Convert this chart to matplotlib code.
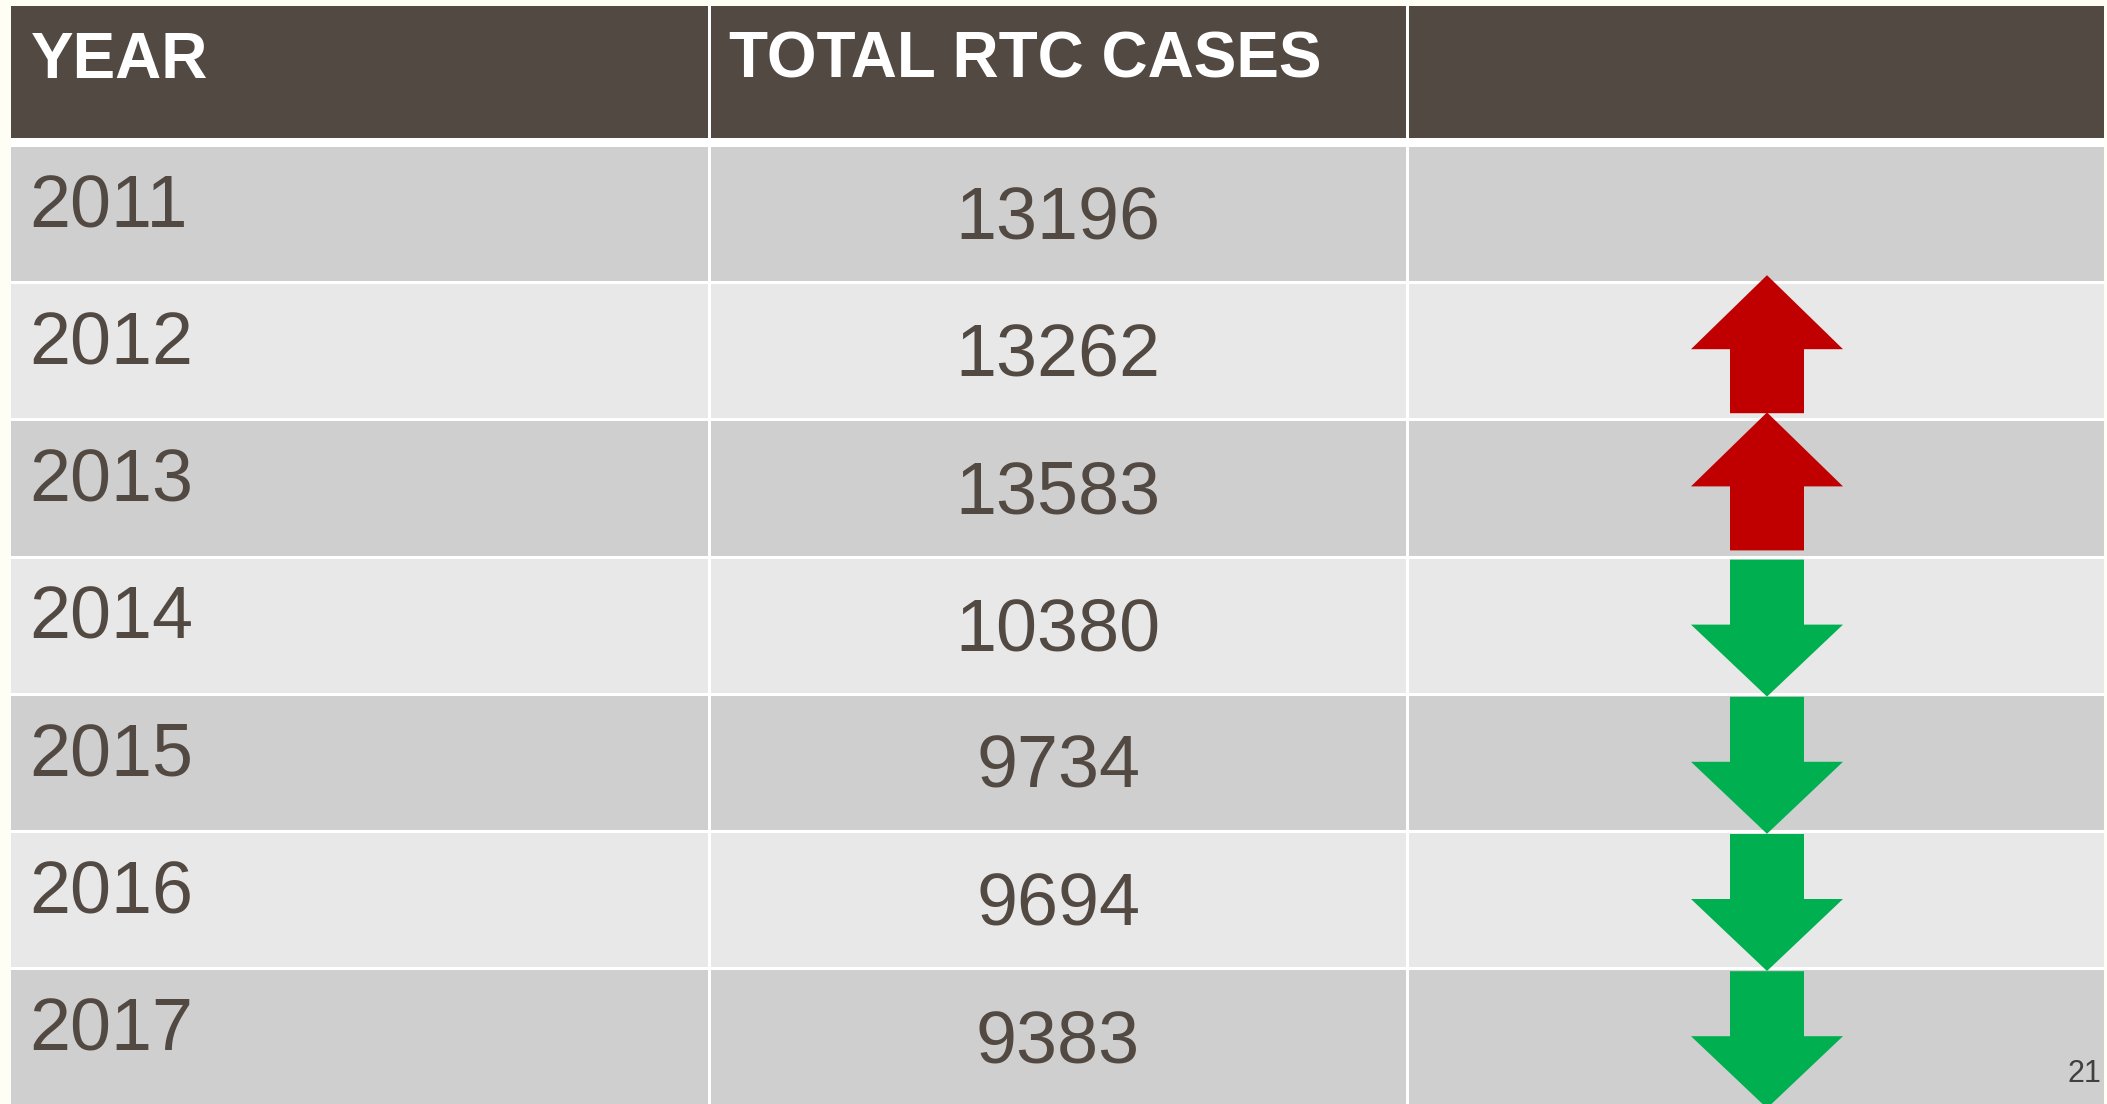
import matplotlib.pyplot as plt
from matplotlib.patches import Rectangle, Polygon
import numpy as np

# table data
years = ['2011', '2012', '2013', '2014', '2015', '2016', '2017']
cases = [13196, 13262, 13583, 10380, 9734, 9694, 9383]
headers = ['YEAR', 'TOTAL RTC CASES', '']
page_num = '21'

plt.rcParams['font.family'] = ['Liberation Sans', 'DejaVu Sans']

W, H = 2107, 1104
fig = plt.figure(figsize=(W / 100, H / 100), dpi=100)
fig.patch.set_facecolor('#FEFEF4')
ax = fig.add_axes([0, 0, 1, 1])
ax.set_xlim(0, W)
ax.set_ylim(H, 0)
ax.axis('off')

# column edges (pixel layout)
col_x = [11, 709, 1407, 2104]
gap = 3
head_top, head_bot = 6, 138
row0, pitch = 147, 137.2

header_col = '#524943'
text_col = '#524943'
row_cols = ['#CFCFCF', '#E8E8E8']
up_col, down_col = '#C00000', '#00B050'

# white grid behind the cells
ax.add_patch(Rectangle((col_x[0], head_top), col_x[-1] - col_x[0], H,
                       facecolor='white', edgecolor='none', zorder=0))

# header
for c in range(3):
    x0 = col_x[c] + (gap / 2 if c > 0 else 0)
    x1 = col_x[c + 1] - (gap / 2 if c < 2 else 0)
    ax.add_patch(Rectangle((x0, head_top), x1 - x0, head_bot - head_top,
                           facecolor=header_col, edgecolor='none'))
    ax.text(col_x[c] + 20, head_top + 72, headers[c], color='white',
            fontsize=46, fontweight='bold', va='baseline', ha='left')

# body rows
for i, (yr, val) in enumerate(zip(years, cases)):
    top = row0 + i * pitch
    bot = top + pitch - gap
    for c in range(3):
        x0 = col_x[c] + (gap / 2 if c > 0 else 0)
        x1 = col_x[c + 1] - (gap / 2 if c < 2 else 0)
        ax.add_patch(Rectangle((x0, top), x1 - x0, bot - top,
                               facecolor=row_cols[i % 2], edgecolor='none'))
    ax.text(29, top + 80, yr, color=text_col, fontsize=53,
            va='baseline', ha='left')
    ax.text((col_x[1] + col_x[2]) / 2, top + 92, str(val), color=text_col,
            fontsize=53, va='baseline', ha='center')

# trend arrows
cx = 1767
head_hw, shaft_hw = 76, 37
head_len, total_len = 74, 138
trend = np.sign(np.diff(cases))
for i, t in enumerate(trend, start=1):
    top = row0 + i * pitch
    if t > 0:
        tip = top - 9
        base = tip + head_len
        end = tip + total_len
        pts = [(cx, tip), (cx + head_hw, base), (cx + shaft_hw, base),
               (cx + shaft_hw, end), (cx - shaft_hw, end),
               (cx - shaft_hw, base), (cx - head_hw, base)]
        col = up_col
    else:
        start = top + 1
        tip = start + total_len - 1
        base = tip - head_len + 2
        pts = [(cx - shaft_hw, start), (cx + shaft_hw, start),
               (cx + shaft_hw, base), (cx + head_hw, base), (cx, tip),
               (cx - head_hw, base), (cx - shaft_hw, base)]
        col = down_col
    ax.add_patch(Polygon(pts, closed=True, facecolor=col, edgecolor='none',
                         zorder=3))

ax.text(2101, 1082, page_num, color='#404040', fontsize=22,
        ha='right', va='baseline', zorder=4)

fig.savefig('out.png', dpi=100, facecolor=fig.get_facecolor())
